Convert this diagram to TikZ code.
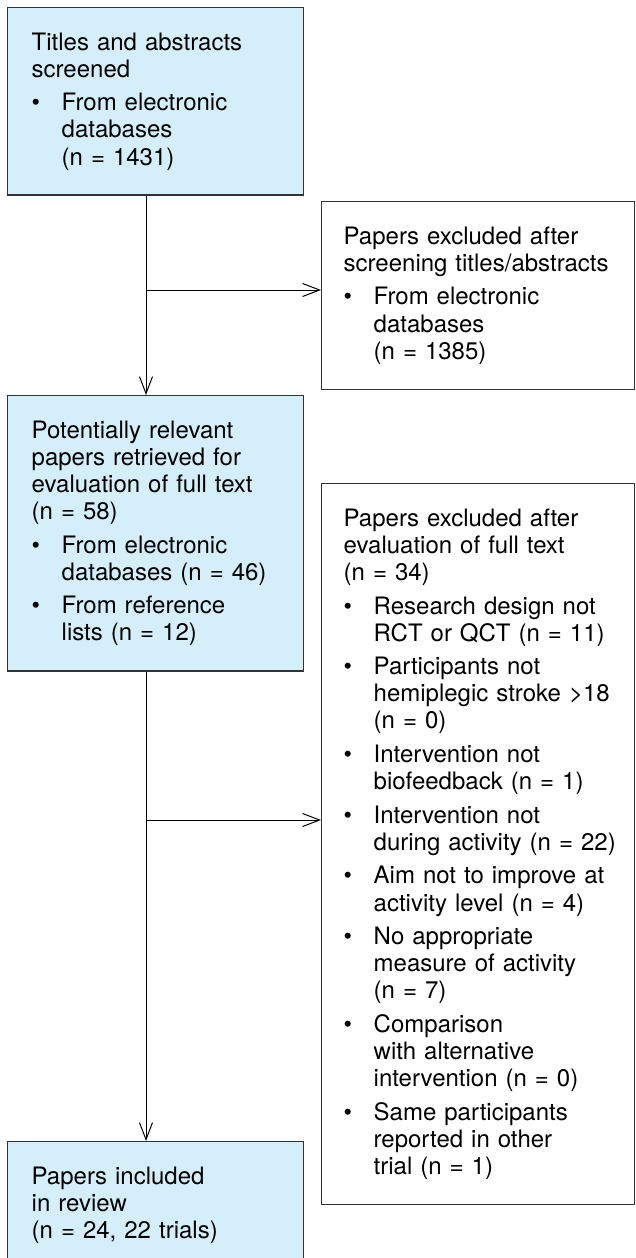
\documentclass[tikz,border=0pt]{standalone}
\usepackage{fontspec}
\setmainfont{TeX Gyre Heros}
\usetikzlibrary{arrows.meta,positioning}
\tikzset{>={Straight Barb[length=17pt,width=13pt]}}
\definecolor{boxblue}{RGB}{212,238,250}
\newcommand{\bl}{\makebox[30pt][l]{\textbullet}}
\newcommand{\ind}{\hspace*{30pt}}

\begin{document}
\begin{tikzpicture}[x=1pt, y=-1pt,
    box/.style={draw=black!80, line width=1.4pt, anchor=north west, align=left,
      inner xsep=24pt, inner ysep=25pt, font=\fontsize{24}{27.1}\selectfont},
    incl/.style={box, fill=boxblue, text width=248pt},
    excl/.style={box, fill=white, inner xsep=22pt, text width=269pt},
    link/.style={->, line width=1pt}]
  \useasboundingbox (0,0) rectangle (635,1258);

  \node[incl] (scr) at (7,7) {Titles and abstracts\\screened\\[6.5pt]
    \bl From electronic\\ \ind databases\\ \ind (n = 1431)}; %screening
  \node[excl] (exA) at (321,201) {Papers excluded after\\screening titles/abstracts\\[6.5pt]
    \bl From electronic\\ \ind databases\\ \ind (n = 1385)};
  \node[incl] (ret) at (7,395) {Potentially relevant\\papers retrieved for\\evaluation of full text\\(n = 58)\\[6.5pt]
    \bl From electronic\\ \ind databases (n = 46)\\[6.5pt]
    \bl From reference\\ \ind lists (n = 12)};
  \node[excl] (exB) at (321,483) {Papers excluded after\\evaluation of full text\\(n = 34)\\[6.5pt]
    \bl Research design not\\ \ind \mbox{RCT or QCT (n = 11)}\\[6.5pt]
    \bl Participants not\\ \ind \mbox{hemiplegic stroke >18}\\ \ind (n = 0)\\[6.5pt]
    \bl Intervention not\\ \ind biofeedback (n = 1)\\[6.5pt]
    \bl Intervention not\\ \ind \mbox{during activity (n = 22)}\\[6.5pt]
    \bl \mbox{Aim not to improve at}\\ \ind \mbox{activity level (n = 4)}\\[6.5pt]
    \bl No appropriate\\ \ind measure of activity\\ \ind (n = 7)\\[6.5pt]
    \bl Comparison\\ \ind with alternative\\ \ind \mbox{intervention (n = 0)}\\[6.5pt]
    \bl Same participants\\ \ind reported in other\\ \ind trial (n = 1)};
  \node[incl] (inc) at (7,1141) {Papers included\\in review\\(n = 24, 22 trials)}; %final

  \coordinate (j1) at (146,290);
  \coordinate (j2) at (146,820);
  \draw[link] (scr.south -| j1) -- (ret.north -| j1);
  \draw[link] (j1) -- (j1 -| exA.west);
  \draw[link] (ret.south -| j2) -- (inc.north -| j2);
  \draw[link] (j2) -- (j2 -| exB.west);
\end{tikzpicture}
\end{document}
